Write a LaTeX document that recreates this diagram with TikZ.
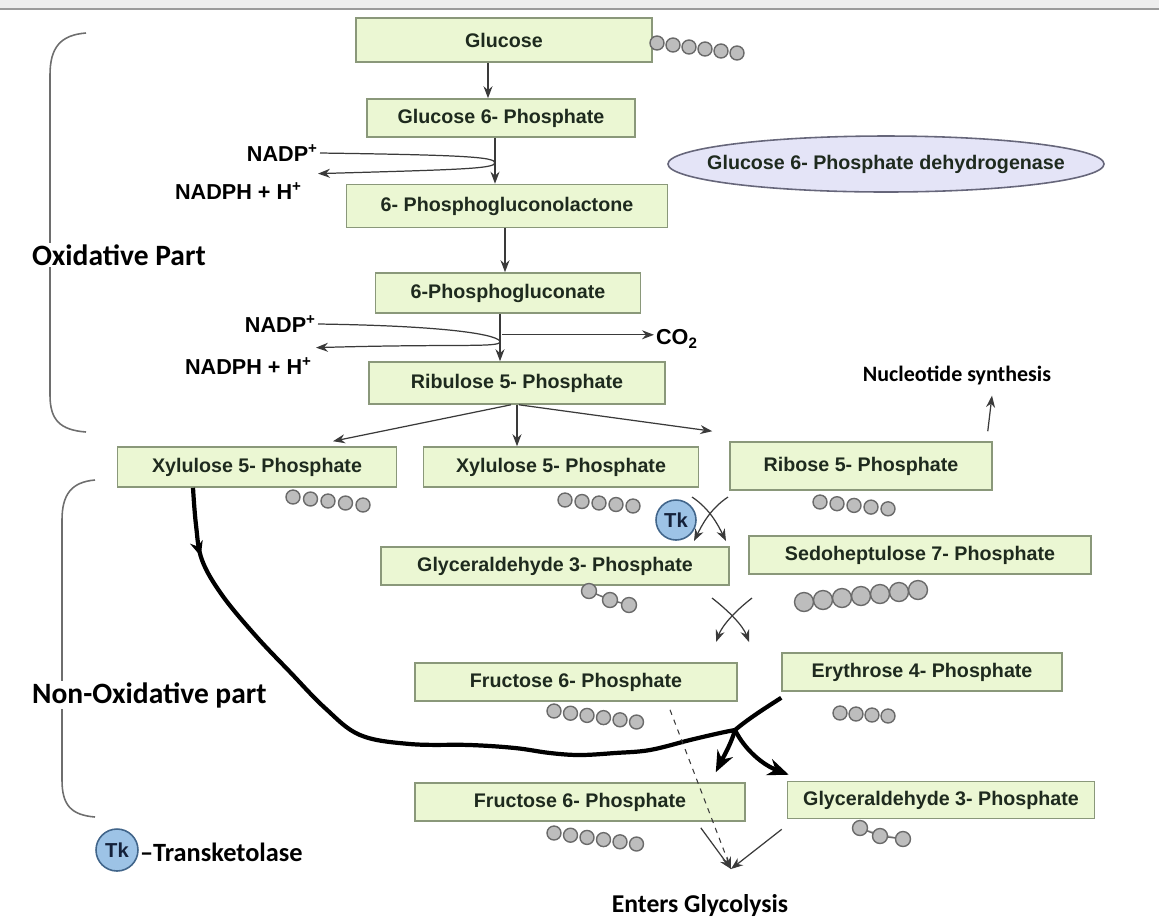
\documentclass[tikz,border=0pt]{standalone}
\usepackage{fontspec}
\setmainfont{Liberation Sans}
\newfontfamily\calib{Carlito}
\usetikzlibrary{arrows.meta, positioning, calc, shapes.geometric, decorations.markings}
\definecolor{boxfill}{HTML}{EBF7D3}
\definecolor{boxline}{HTML}{8A987A}
\definecolor{boxtext}{HTML}{1E2A1E}
\definecolor{linegray}{HTML}{3A3A3A}
\definecolor{bracegray}{HTML}{6E6E6E}
\definecolor{beadfill}{HTML}{BDBDBD}
\definecolor{beadline}{HTML}{6A6A6A}
\definecolor{tkfill}{HTML}{9DC3E6}
\definecolor{tkline}{HTML}{41658A}
\definecolor{tktext}{HTML}{14213A}
\definecolor{enzfill}{HTML}{E4E4F7}
\definecolor{enzline}{HTML}{66667A}
\definecolor{topbar}{HTML}{EDEDED}

% chain of carbon beads: n, x, y, dx, dy, radius
\newcommand{\beads}[6]{%
  \foreach \k in {1,...,#1}
    \draw[bead] ({#2+(\k-1)*(#4)},{#3+(\k-1)*(#5)}) circle[radius=#6*0.2mm];}

\begin{document}
\begin{tikzpicture}[x=0.02cm, y=-0.02cm,
  >={Stealth[length=2.4mm, width=1.8mm]},
  box/.style={draw=boxline, line width=0.9pt, fill=boxfill, minimum width=#1*0.2mm,
    minimum height=40*0.2mm, inner sep=0pt, text=boxtext,
    font=\fontsize{11.2}{13}\selectfont\bfseries},
  lab/.style={font=\fontsize{12.3}{14}\selectfont\bfseries, inner sep=1pt},
  cal/.style={font=\calib\fontsize{#1}{18}\selectfont\bfseries, inner sep=1pt},
  cal/.default=12.5,
  enz/.style={circle, draw=tkline, line width=0.9pt, fill=tkfill, minimum size=#1*0.2mm,
    inner sep=0pt, text=tktext, font=\fontsize{11.5}{13}\selectfont\bfseries},
  arr/.style={->, line width=0.7pt, draw=linegray},
  thk/.style={line width=2.4pt, draw=black},
  thkarr/.style={thk, -{Stealth[length=4.2mm, width=3.4mm]}},
  brace/.style={draw=bracegray, line width=0.9pt},
  bead/.style={draw=beadline, fill=beadfill, line width=0.8pt},
]

% Frame
\useasboundingbox (0,0) rectangle (1159,921);
\fill[topbar] (0,0) rectangle (1159,9);
\draw[bracegray!70, line width=0.8pt] (0,9) -- (1159,9);

% =============================================
% Oxidative part
% =============================================
\node[box=296, minimum height=44*0.2mm] (glc) at (504,40) {Glucose};
\node[box=268, minimum height=38*0.2mm] (g6p) at (501,118) {Glucose 6- Phosphate};
\node[box=321, minimum height=43*0.2mm] (pgl) at (507,206) {6- Phosphogluconolactone};
\node[box=265] (pgn) at (508,293) {6-Phosphogluconate};
\node[box=296, minimum height=42*0.2mm] (ru5p) at (517,383) {Ribulose 5- Phosphate};

\node[ellipse, draw=enzline, line width=0.9pt, fill=enzfill, minimum width=434*0.2mm,
  minimum height=56*0.2mm, inner xsep=-14pt, inner ysep=0pt, text=boxtext,
  font=\fontsize{11.2}{13}\selectfont\bfseries] (g6pd) at (886,164)
  {Glucose 6- Phosphate dehydrogenase};

\node[lab, anchor=east] (nadpA) at (320,153) {NADP\textsuperscript{+}};
\node[lab, anchor=east] (nadphA) at (304,191) {NADPH + H\textsuperscript{+}};
\node[lab, anchor=east] (nadpB) at (318,324) {NADP\textsuperscript{+}};
\node[lab, anchor=east] (nadphB) at (314,366) {NADPH + H\textsuperscript{+}};
\node[lab, anchor=west] (co2) at (654,339) {CO\textsubscript{2}};

\draw[arr] ($(glc.south)+(-16,0)$) -- ($(g6p.north)+(-13,0)$);
\draw[arr] ($(g6p.south)+(-6,0)$) -- ($(pgl.north)+(-12,0)$);
\draw[arr] ($(pgl.south)+(-2,0)$) -- ($(pgn.north)+(-3,0)$);
\draw[arr] ($(pgn.south)+(-8,0)$) -- ($(ru5p.north)+(-17,0)$);

\coordinate (turnA) at ($(g6p.south)+(-6,25)$);
\coordinate (endA) at ($(nadphA.north east)+(14,-7)$);
\draw[arr] (nadpA.east) .. controls +(140,2) and +(0,-6) .. (turnA)
  .. controls +(0,6) and +(140,-4) .. (endA);

\coordinate (turnB) at ($(pgn.south)+(-8,28)$);
\coordinate (endB) at ($(nadphB.north east)+(2,-8)$);
\draw[arr] (nadpB.east) .. controls +(140,2) and +(0,-6) .. (turnB)
  .. controls +(0,6) and +(140,-4) .. (endB);

\coordinate (co2src) at ($(pgn.south)+(-6,21)$);
\draw[arr] (co2src) -- (co2src -| co2.west);

% Brace and label
\draw[brace] (86,33) .. controls (60,35) and (50,48) .. (50,75) -- (50,395)
  .. controls (50,420) and (60,430) .. (86,432);
\node[cal=16.8, anchor=west, fill=white] (oxi) at (30,255) {Oxidative Part};

% =============================================
% Pentose phosphates
% =============================================
\node[box=279] (xylL) at (257,467) {Xylulose 5- Phosphate};
\node[box=275] (xylM) at (561,467) {Xylulose 5- Phosphate};
\node[box=262, minimum height=48*0.2mm] (rib) at (861,466) {Ribose 5- Phosphate};
\node[cal] (nuc) at (957,375) {Nucleotide synthesis};

\draw[arr] ($(ru5p.south)+(-6,0)$) -- ($(xylL.north)+(76,-5)$);
\draw[arr] (ru5p.south) -- (ru5p.south |- xylM.north);
\draw[arr] ($(ru5p.south)+(2,0)$) -- ($(rib.north west)+(-17,-10)$);
\draw[arr] ($(rib.north east)+(-5,-10)$) -- ($(nuc.south)+(35,9)$);

\beads{6}{657}{43}{16}{2}{7}
\beads{5}{293}{497}{17.5}{2}{7}
\beads{5}{565}{500}{17}{1.5}{7}
\beads{5}{820}{502}{17}{1.7}{7}

% =============================================
% Transketolase step
% =============================================
\node[enz=40] (tk) at (676,520) {Tk};
\node[box=348, minimum height=38*0.2mm] (g3pM) at (555,566) {Glyceraldehyde 3- Phosphate};
\node[box=342, minimum height=38*0.2mm] (sedo) at (920,555) {Sedoheptulose 7- Phosphate};

\coordinate (tkA) at (692,497);
\coordinate (tkB) at (728,497);
\coordinate (tkC) at (726,541);
\coordinate (tkD) at (694,541);
\draw[arr] (tkA) .. controls +(18,12) and +(-8,-16) .. (tkC);
\draw[arr] (tkB) .. controls +(-18,12) and +(8,-16) .. (tkD);

\draw[bead] (589,591) -- (610,600) -- (629,605);
\draw[bead] (589,591) circle[radius=7.5*0.2mm];
\draw[bead] (610,600) circle[radius=7.5*0.2mm];
\draw[bead] (629,605) circle[radius=7.5*0.2mm];
\beads{7}{804}{602}{19}{-2}{9.5}

% second exchange
\coordinate (mxA) at (712,598);
\coordinate (mxB) at (752,598);
\coordinate (mxC) at (749,642);
\coordinate (mxD) at (716,642);
\draw[arr] (mxA) .. controls +(18,14) and +(-6,-16) .. (mxC);
\draw[arr] (mxB) .. controls +(-18,14) and +(6,-16) .. (mxD);

% =============================================
% Non-oxidative part
% =============================================
\node[box=322, minimum height=38*0.2mm] (fruU) at (576,682) {Fructose 6- Phosphate};
\node[box=280, minimum height=38*0.2mm] (ery) at (922,672) {Erythrose 4- Phosphate};
\node[box=330, minimum height=38*0.2mm] (fruL) at (580,802) {Fructose 6- Phosphate};
\node[box=307, minimum height=37*0.2mm] (g3pL) at (941,800) {Glyceraldehyde 3- Phosphate};

\beads{6}{554}{711}{16.5}{2.2}{7}
\beads{4}{840}{713}{16}{1}{7}
\beads{6}{554}{833}{16.5}{2.2}{7}
\draw[bead] (860,828) -- (880,836) -- (903,839);
\draw[bead] (860,828) circle[radius=7.5*0.2mm];
\draw[bead] (880,836) circle[radius=7.5*0.2mm];
\draw[bead] (903,839) circle[radius=7.5*0.2mm];

\draw[brace] (95,480) .. controls (71,482) and (62,495) .. (62,520) -- (62,780)
  .. controls (62,805) and (71,815) .. (95,817);
\node[cal=16.8, anchor=west, fill=white] (nonoxi) at (30,695) {Non-Oxidative part};

% thick carbon path
\coordinate (xylOut) at ($(xylL.south)+(-64,0)$);
\coordinate (jn) at (735,730);
\draw[thk, decoration={markings, mark=at position 0.1 with {\arrow{Stealth[length=3mm, width=2.6mm]}}},
  postaction={decorate}]
  plot[smooth, tension=0.6] coordinates {(xylOut) (196,525) (202,560) (222,595) (255,635)
  (290,672) (325,708) (360,735) (410,744) (470,745) (515,748) (550,753) (580,755)
  (615,753) (650,750) (690,740) (720,733) (jn)};
\draw[thk] ($(ery.south west)+(0,6)$) .. controls +(-22,14) and +(12,-10) .. (jn);
\draw[thkarr] (jn) .. controls +(-4,14) and +(8,-16) .. ($(fruL.north east)+(-30,-10)$);
\draw[thkarr] (jn) .. controls +(10,20) and +(-26,-10) .. ($(g3pL.north west)+(2,-6)$);

% =============================================
% Glycolysis
% =============================================
\node[cal=14.6] (enters) at (700,905) {Enters Glycolysis};
\coordinate (glyc) at (731,869);
\draw[arr, dashed, line width=0.6pt] ($(fruU.south)+(94,8)$) -- (glyc);
\draw[arr] ($(fruL.south east)+(-45,6)$) -- (glyc);
\draw[arr] ($(g3pL.south west)+(-5,10)$) -- (glyc);

% Legend
\node[enz=42] (tkkey) at (117,850) {Tk};
\node[cal=15, anchor=west] (tklab) at (138,852) {\textendash Transketolase};

\end{tikzpicture}
\end{document}
